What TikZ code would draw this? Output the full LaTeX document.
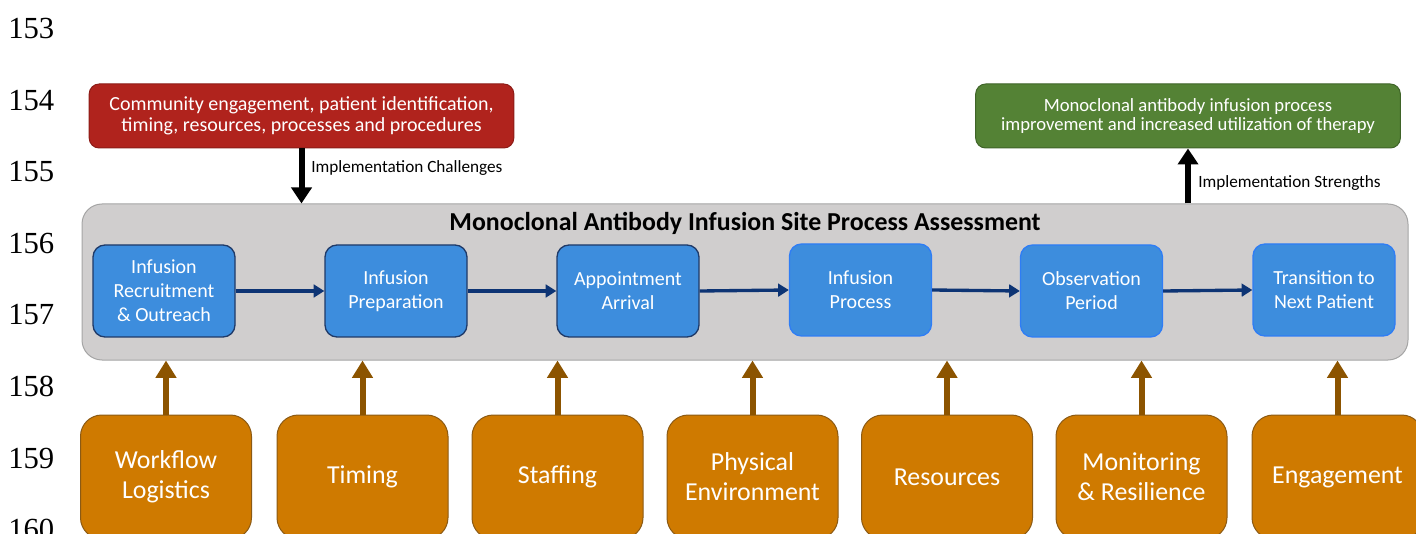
\documentclass[tikz,border=0pt]{standalone}
\usepackage{fontspec}
\setmainfont{Carlito}
\newfontfamily\numfont{Liberation Serif}
\usetikzlibrary{arrows.meta}
\definecolor{redfill}{HTML}{B0231D}
\definecolor{redline}{HTML}{8C1C17}
\definecolor{greenfill}{HTML}{548235}
\definecolor{greenline}{HTML}{3F6428}
\definecolor{grayfill}{HTML}{D0CECE}
\definecolor{grayline}{HTML}{A5A5A5}
\definecolor{bluefill}{HTML}{3D8DDD}
\definecolor{bluedark}{HTML}{1F3A68}
\definecolor{bluebright}{HTML}{2F7DF5}
\definecolor{navy}{HTML}{0D3474}
\definecolor{orangefill}{HTML}{CF7A00}
\definecolor{orangeline}{HTML}{8B5A14}
\definecolor{brownarrow}{HTML}{8C5400}
\tikzset{
  x=0.75pt, y=-0.75pt,
  topbox/.style={rounded corners=7.5pt, line width=0.75pt, text=white, align=center,
    minimum width=318.5pt, minimum height=48pt, inner sep=0pt},
  stagebox/.style={rounded corners=9pt, line width=1pt, fill=bluefill, text=white, align=center,
    minimum width=106.5pt, minimum height=69pt, inner sep=0pt,
    font=\fontsize{15}{18}\selectfont},
  factorbox/.style={rounded corners=16pt, line width=0.75pt, draw=orangeline, fill=orangefill,
    text=white, align=center, minimum width=128.25pt, minimum height=93pt, inner sep=0pt,
    font=\fontsize{19.4}{22.5}\selectfont},
  bigarrow/.style={line width=4.5pt, -{Triangle[width=15pt,length=12pt]}},
  flowarrow/.style={line width=2.5pt, draw=navy, -{Triangle[width=9.5pt,length=8pt]}},
  factorarrow/.style={line width=4.5pt, draw=brownarrow, -{Triangle[width=15pt,length=13pt]}},
  linenum/.style={anchor=base west, inner sep=0pt, font=\numfont\fontsize{23}{28}\selectfont},
  sidelabel/.style={anchor=west, inner sep=0pt, font=\fontsize{12.9}{15}\selectfont}
}
\begin{document}
\begin{tikzpicture}
\useasboundingbox (0,0) rectangle (1416,534);

% manuscript line numbers
\foreach \n [count=\i from 0] in {153,...,160}
  \node[linenum] (ln\n) at (8, 39+71.5*\i) {\n};

% outcome boxes
\node[topbox, draw=redline, fill=redfill, font=\fontsize{15}{16}\selectfont] (challenge) at (301.5,116)
  {Community engagement, patient identification,\\timing, resources, processes and procedures};
\node[topbox, draw=greenline, fill=greenfill, font=\fontsize{14}{14.5}\selectfont] (strength) at (1188,116)
  {Monoclonal antibody infusion process\\improvement and increased utilization of therapy};

% assessment frame
\node[rounded corners=15pt, line width=0.75pt, draw=grayline, fill=grayfill,
  minimum width=994.5pt, minimum height=117pt, inner sep=0pt] (frame) at (745,282) {};
\node[font=\bfseries\fontsize{19.4}{22}\selectfont, inner sep=0pt] (title) at (745,223)
  {Monoclonal Antibody Infusion Site Process Assessment};

% process stages
\node[stagebox, draw=bluedark] (s1) at (164,291) {Infusion\\Recruitment\\\& Outreach};
\node[stagebox, draw=bluedark] (s2) at (396,291) {Infusion\\Preparation};
\node[stagebox, draw=bluedark] (s3) at (628,291) {Appointment\\Arrival};
\node[stagebox, draw=bluebright] (s4) at (860.5,290) {Infusion\\Process};
\node[stagebox, draw=bluebright] (s5) at (1091.5,291) {Observation\\Period};
\node[stagebox, draw=bluebright] (s6) at (1324,290) {Transition to\\Next Patient};
\foreach \a/\b in {s1/s2,s2/s3,s3/s4,s4/s5,s5/s6}
  \draw[flowarrow] (\a.east) -- (\b.west);

% challenges and strengths arrows
\draw[bigarrow] (challenge.south) -- (challenge.south |- frame.north);
\node[sidelabel] (challabel) at (311,168) {Implementation Challenges};
\draw[bigarrow] (frame.north -| strength.south) -- (strength.south);
\node[sidelabel] (strlabel) at (1198,183) {Implementation Strengths};

% contributing factors
\node[factorbox] (f1) at (166,477) {Workflow\\Logistics};
\node[factorbox] (f2) at (362.5,477) {Timing};
\node[factorbox] (f3) at (557.5,477) {Staffing};
\node[factorbox] (f4) at (752.5,477) {Physical\\Environment};
\node[factorbox] (f5) at (947,477) {Resources};
\node[factorbox] (f6) at (1141.5,477) {Monitoring\\\& Resilience};
\node[factorbox] (f7) at (1337.5,477) {Engagement};
\foreach \f in {f1,f2,f3,f4,f5,f6,f7}
  \draw[factorarrow] (\f.north) -- (\f.north |- frame.south);
\end{tikzpicture}
\end{document}
